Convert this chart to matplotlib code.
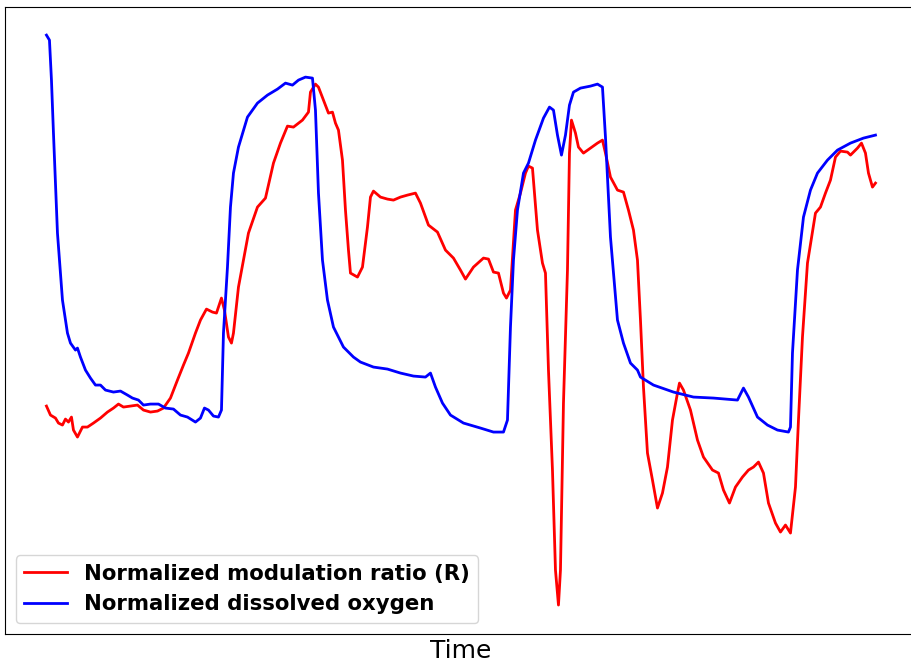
import numpy as np
import matplotlib.pyplot as plt

# readings taken off the original trace (time in samples, level in raw counts)
t_ratio = [0, 4, 9, 12, 16, 19, 22, 25, 27, 31, 36, 41, 47, 54, 61, 67, 72, 77, 84, 91,
           97, 104, 111, 117, 124, 131, 137, 142, 149, 154, 160, 166, 170, 175, 178, 182,
           185, 187, 192, 202, 211, 219, 227, 234, 241, 247, 256, 262, 264, 269, 272, 277,
           282, 286, 289, 292, 296, 299, 302, 304, 311, 316, 321, 324, 327, 334, 341, 347,
           354, 361, 369, 374, 382, 391, 399, 407, 414, 419, 427, 437, 442, 447, 452, 457,
           460, 464, 469, 474, 479, 482, 486, 491, 496, 499, 502, 506, 509, 512, 514, 517,
           521, 523, 525, 529, 532, 537, 544, 551, 556, 559, 564, 571, 577, 582, 587, 591,
           594, 597, 601, 606, 611, 616, 621, 626, 631, 633, 637, 644, 651, 657, 666, 672,
           677, 683, 689, 696, 702, 707, 712, 717, 722, 729, 734, 739, 744, 749, 752, 756,
           761, 769, 774, 779, 784, 789, 794, 801, 804, 807, 811, 815, 819, 822, 826, 829]
ratio_raw = [199, 190, 187, 182, 180, 186, 183, 188, 175, 168, 178, 178, 182, 187, 193, 197,
             201, 198, 199, 200, 195, 193, 194, 197, 207, 225, 240, 252, 272, 285, 296, 293,
             292, 307, 295, 268, 262, 272, 318, 372, 398, 407, 442, 462, 479, 478, 485, 493,
             513, 521, 518, 505, 492, 493, 482, 475, 445, 395, 355, 332, 328, 338, 378, 408,
             414, 408, 406, 405, 408, 410, 412, 402, 380, 373, 355, 347, 335, 326, 338, 347,
             346, 333, 332, 312, 307, 315, 395, 412, 432, 439, 437, 375, 342, 332, 235, 135,
             35, 0, 35, 202, 335, 452, 485, 472, 458, 452, 457, 462, 465, 452, 428, 415, 413,
             395, 375, 345, 285, 218, 152, 125, 97, 112, 138, 185, 212, 222, 215, 195, 165,
             148, 135, 132, 115, 102, 118, 128, 135, 138, 143, 132, 102, 82, 73, 80, 72, 118,
             185, 268, 342, 392, 398, 412, 425, 448, 454, 453, 450, 453, 457, 462, 452, 432,
             418, 422]

t_oxygen = [0, 3, 5, 7, 11, 16, 21, 24, 29, 31, 34, 39, 44, 49, 54, 59, 67, 74, 81, 86, 92,
            97, 104, 112, 119, 127, 134, 141, 149, 154, 158, 162, 167, 172, 175, 177, 181,
            184, 187, 192, 201, 211, 221, 231, 239, 246, 252, 259, 266, 269, 272, 276, 281,
            287, 297, 307, 314, 327, 341, 354, 367, 379, 384, 389, 396, 404, 417, 434, 447,
            457, 461, 464, 467, 471, 477, 482, 489, 497, 503, 507, 511, 515, 519, 523, 527,
            534, 544, 551, 556, 559, 564, 571, 577, 584, 591, 594, 607, 627, 647, 667, 691,
            697, 702, 711, 721, 731, 742, 744, 746, 751, 757, 764, 771, 781, 791, 804, 817,
            829]
oxygen_raw = [570, 565, 525, 472, 372, 305, 272, 262, 255, 257, 248, 235, 227, 220, 220, 215,
              213, 214, 210, 207, 205, 200, 201, 201, 197, 196, 190, 188, 183, 187, 197, 195,
              189, 188, 195, 272, 338, 398, 432, 458, 488, 502, 510, 516, 522, 520, 525, 528,
              527, 495, 412, 345, 305, 278, 258, 248, 243, 238, 236, 232, 229, 228, 232, 218,
              202, 190, 182, 177, 173, 173, 185, 278, 345, 395, 432, 442, 465, 487, 498, 495,
              470, 450, 470, 500, 513, 517, 519, 521, 518, 468, 368, 285, 262, 242, 235, 228,
              220, 213, 208, 207, 205, 217, 208, 188, 180, 175, 173, 178, 252, 335, 388, 415,
              432, 445, 455, 462, 467, 470]

full_scale = 570.0
ratio = np.array(ratio_raw) / full_scale
oxygen = np.array(oxygen_raw) / full_scale

fig = plt.figure(figsize=(9.11, 6.62), dpi=100)
ax = fig.add_axes([0.0055, 0.043, 1.001, 0.947])

ax.plot(t_ratio, ratio, color='red', linewidth=2, label='Normalized modulation ratio (R)')
ax.plot(t_oxygen, oxygen, color='blue', linewidth=2, label='Normalized dissolved oxygen')

ax.set_xticks([])
ax.set_yticks([])
ax.set_xlabel('Time', fontsize=18)
ax.legend(loc='lower left', prop={'size': 15.3, 'weight': 'bold'})

fig.savefig('out.png', dpi=100)
